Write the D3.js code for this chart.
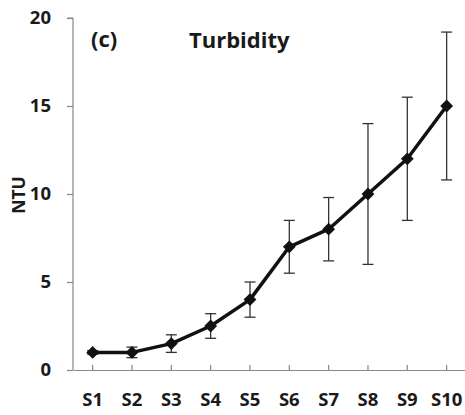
<!DOCTYPE html>
<html>
<head>
<meta charset="utf-8">
<script src="https://cdn.jsdelivr.net/npm/d3@7"></script>
<style>
  html, body { margin: 0; padding: 0; background: #fff; }
  svg { display: block; }
  text { font-family: "Open Sans", sans-serif; font-weight: bold; fill: #1a1a1a; }
</style>
</head>
<body>
<svg id="chart" width="465" height="415"></svg>
<script>
const categories = ["S1","S2","S3","S4","S5","S6","S7","S8","S9","S10"];
const means = [1, 1, 1.5, 2.5, 4, 7, 8, 10, 12, 15];
const upper = [1.1, 1.3, 2.0, 3.2, 5.0, 8.5, 9.8, 14.0, 15.5, 19.2];
const lower = [0.9, 0.7, 1.0, 1.8, 3.0, 5.5, 6.2, 6.0, 8.5, 10.8];
const yTicks = [0, 5, 10, 15, 20];

const svg = d3.select("#chart");
const y = d3.scaleLinear().domain([0, 20]).range([370, 18]);
const x = d3.scaleBand().domain(categories).range([73, 466.3]).padding(0);
const cx = c => x(c) + x.bandwidth() / 2;
const axisColor = "#888";
const tickFont = "18.5px";

// Y axis
const yAxis = svg.append("g").attr("transform", "translate(73,0)")
  .call(d3.axisLeft(y).tickValues(yTicks).tickSize(6).tickPadding(16));
yAxis.select(".domain").attr("stroke", axisColor).attr("stroke-width", 1.2).attr("d", `M0,${y(20)}H-6M0,${y(20)}V${y(0)}`);
yAxis.selectAll(".tick line").attr("stroke", axisColor).attr("stroke-width", 1.2);
yAxis.selectAll(".tick text").attr("font-size", tickFont).attr("font-family", "Open Sans").attr("font-weight", "bold").attr("fill", "#1a1a1a");

// X axis
const xAxis = svg.append("g").attr("transform", `translate(0,${y(0)})`)
  .call(d3.axisBottom(x).tickSize(-5).tickSizeOuter(0).tickPadding(23));
xAxis.select(".domain").attr("stroke", axisColor).attr("stroke-width", 1.2);
xAxis.selectAll(".tick line").attr("stroke", axisColor).attr("stroke-width", 1.2);
xAxis.selectAll(".tick text").attr("font-size", tickFont).attr("font-family", "Open Sans").attr("font-weight", "bold").attr("fill", "#1a1a1a");

// Error bars
const eb = svg.append("g").attr("stroke", "#333").attr("stroke-width", 1.3);
categories.forEach((c, i) => {
  eb.append("line").attr("x1", cx(c)).attr("x2", cx(c)).attr("y1", y(upper[i])).attr("y2", y(lower[i]));
  eb.append("line").attr("x1", cx(c) - 5.5).attr("x2", cx(c) + 5.5).attr("y1", y(upper[i])).attr("y2", y(upper[i]));
  eb.append("line").attr("x1", cx(c) - 5.5).attr("x2", cx(c) + 5.5).attr("y1", y(lower[i])).attr("y2", y(lower[i]));
});

// Line
const line = d3.line().x((d, i) => cx(categories[i])).y(d => y(d));
svg.append("path").datum(means).attr("d", line)
  .attr("fill", "none").attr("stroke", "#111").attr("stroke-width", 3.5).attr("stroke-linejoin", "round");

// Markers
const sym = d3.symbol(d3.symbolSquare, 82);
svg.append("g").selectAll("path").data(means).join("path")
  .attr("d", sym)
  .attr("transform", (d, i) => `translate(${cx(categories[i])},${y(d)}) rotate(45)`)
  .attr("fill", "#111");

// Titles
svg.append("text").attr("x", 91).attr("y", 47).attr("font-size", "22px").text("(c)");
svg.append("text").attr("x", 189).attr("y", 48).attr("font-size", "22px").text("Turbidity");
svg.append("text").attr("transform", "translate(25,195) rotate(-90)")
  .attr("text-anchor", "middle").attr("font-size", "17.5px").text("NTU");
</script>
</body>
</html>
